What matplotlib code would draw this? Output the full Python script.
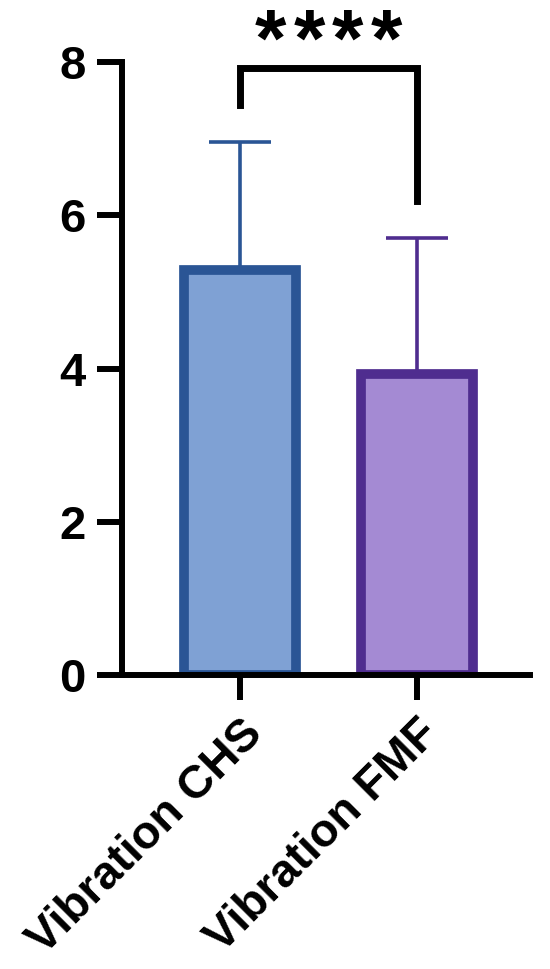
import matplotlib.pyplot as plt

# data
groups = ['Vibration CHS', 'Vibration FMF']
means = [5.28, 3.93]
sd_upper = [1.68, 1.77]
face_colors = ['#7FA1D4', '#A48AD3']
edge_colors = ['#2A5595', '#4F2D8F']
y_ticks = [0, 2, 4, 6, 8]
n_stars = 4

plt.rcParams['font.family'] = ['Liberation Sans', 'DejaVu Sans']
plt.rcParams['font.weight'] = 'bold'

fig = plt.figure(figsize=(5.5, 9.69), dpi=100)
ax = fig.add_axes([0.2218, 0.3034, 0.7418, 0.6326])

x = list(range(len(groups)))
ax.bar(x, means, width=0.63, color=face_colors, edgecolor=edge_colors,
       linewidth=7, zorder=2)
for xi, m, e, c in zip(x, means, sd_upper, edge_colors):
    ax.errorbar(xi, m, yerr=[[0], [e]], color=c, elinewidth=2.6,
                capsize=22, capthick=2.6, zorder=1)

# significance bracket
lw = 5
yb = 7.92
ax.plot([0, 0, 1, 1], [7.44, yb, yb, 6.19], color='black', lw=lw,
        solid_joinstyle='miter', clip_on=False, zorder=3)
# stars, spaced a bit wider than the glyph advance
pitch = 0.22
for i in range(n_stars):
    ax.text(0.5 + (i - (n_stars - 1) / 2) * pitch, 7.95, '*', ha='center',
            va='baseline', fontsize=58, fontweight='bold', clip_on=False)

ax.set_ylim(0, 8)
ax.set_xlim(-0.667, 1.64)
ax.set_yticks(y_ticks)
ax.set_yticklabels([str(t) for t in y_ticks], fontsize=34, fontweight='bold')
ax.set_xticks(x)
ax.set_xticklabels(groups, fontsize=33.5, fontweight='bold', rotation=45,
                   ha='right', va='top', rotation_mode='anchor')

for s in ['top', 'right']:
    ax.spines[s].set_visible(False)
for s in ['left', 'bottom']:
    ax.spines[s].set_linewidth(4.3)
    ax.spines[s].set_color('black')
ax.tick_params(axis='both', length=18, width=4.3, color='black')
ax.tick_params(axis='y', pad=8)
ax.tick_params(axis='x', pad=8)

fig.savefig('out.png', dpi=100)
